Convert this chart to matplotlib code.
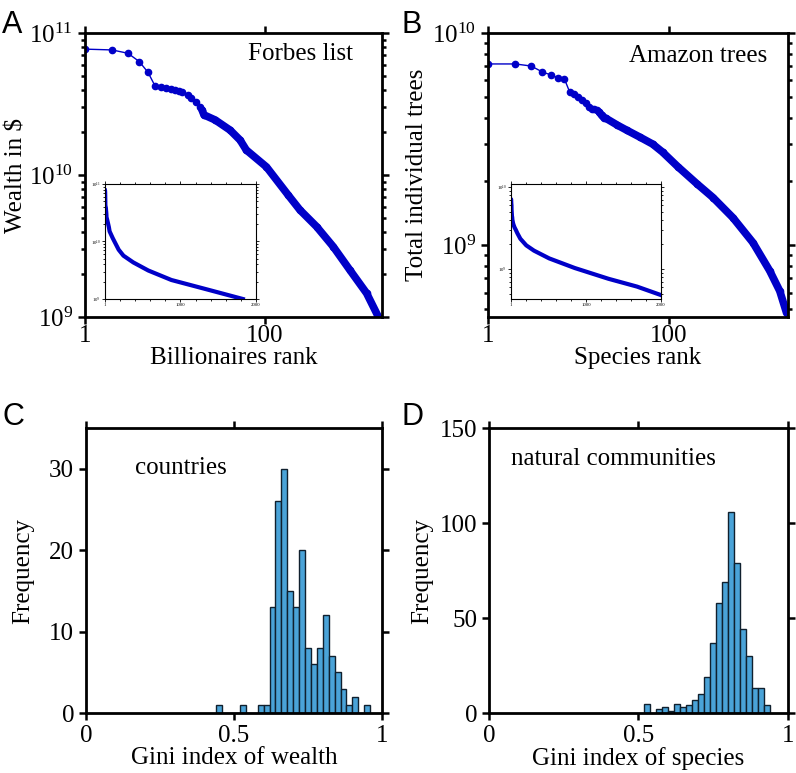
import math
import matplotlib.pyplot as plt
from matplotlib.ticker import LogLocator, NullLocator, NullFormatter, MultipleLocator

plt.rcParams['font.family'] = ['Liberation Serif', 'DejaVu Serif']
plt.rcParams['mathtext.fontset'] = 'custom'
plt.rcParams['mathtext.rm'] = 'Liberation Serif'

# values
forbes_rank = [1, 2, 3, 4, 5, 6, 7, 8, 9, 10, 11, 12, 14, 15, 17, 19, 20, 21,
               28, 41, 53, 62, 104, 182, 245, 375, 574, 880, 1349, 1826]
forbes_wealth = [7.7e10, 7.6e10, 7.2e10, 6.3e10, 5.3e10, 4.24e10, 4.19e10, 4.08e10,
                 4.02e10, 3.97e10, 3.93e10, 3.87e10, 3.66e10, 3.47e10, 3.28e10, 3.03e10,
                 2.87e10, 2.65e10, 2.44e10, 2.07e10, 1.76e10, 1.5e10, 1.14e10, 7.2e9,
                 5.67e9, 4.33e9, 3.13e9, 2.14e9, 1.47e9, 1.0e9]

tree_rank = [1, 2, 3, 4, 5, 6, 7, 8, 9, 10, 11, 12, 13, 14, 15, 16, 17, 18, 19, 20,
             27, 34, 48, 66, 85, 125, 204, 307, 510, 850, 1300, 1680, 2000]
tree_count = [7.15e9, 7.15e9, 6.99e9, 6.55e9, 6.34e9, 6.14e9, 6.07e9, 5.27e9, 5.15e9,
              4.98e9, 4.83e9, 4.66e9, 4.48e9, 4.41e9, 4.37e9, 4.33e9, 4.24e9, 4.1e9,
              4.0e9, 3.97e9, 3.68e9, 3.49e9, 3.23e9, 3.0e9, 2.75e9, 2.35e9, 1.95e9,
              1.68e9, 1.35e9, 1.03e9, 7.6e8, 6.1e8, 4.8e8]

gini_bins_wealth = [0.44, 0.46, 0.48, 0.50, 0.52, 0.54, 0.56, 0.58, 0.60, 0.62, 0.64,
                    0.66, 0.68, 0.70, 0.72, 0.74, 0.76, 0.78, 0.80, 0.82, 0.84, 0.86,
                    0.88, 0.90, 0.92, 0.94]
freq_wealth = [1, 0, 0, 0, 1, 0, 0, 1, 1, 13, 26, 30, 15, 13, 20, 8, 6, 8, 12, 7, 5, 3,
               1, 2, 0, 1]

gini_bins_species = [0.52, 0.54, 0.56, 0.58, 0.60, 0.62, 0.64, 0.66, 0.68, 0.70, 0.72,
                     0.74, 0.76, 0.78, 0.80, 0.82, 0.84, 0.86, 0.88, 0.90, 0.92]
freq_species = [5, 0, 2, 3, 1, 5, 3, 4, 7, 10, 19, 37, 58, 69, 106, 79, 44, 30, 13, 13, 4]

blue = '#0000c8'
barcol = '#4aa3d8'
fs = 18


def style_axes(ax):
    for s in ax.spines.values():
        s.set_linewidth(2.0)
    ax.tick_params(which='both', direction='out', top=True, right=True,
                   width=1.8, labelsize=fs)
    ax.tick_params(which='major', length=5)
    ax.tick_params(which='minor', length=3)


def rank_panel(ax, rank, vals, ylim, yticks, xmax, dense_from):
    ax.plot(rank, vals, color=blue, lw=1, marker='o', ms=4.5)
    big = [i for i, r in enumerate(rank) if r >= dense_from]
    ax.plot([rank[i] for i in big], [vals[i] for i in big], color=blue, lw=5.5,
            solid_capstyle='round', solid_joinstyle='round')
    ax.set_xscale('log')
    ax.set_yscale('log')
    ax.set_xlim(1, xmax)
    ax.set_ylim(*ylim)
    ax.set_xticks([1, 100])
    ax.set_xticklabels(['1', '100'])
    ax.xaxis.set_minor_locator(NullLocator())
    ax.set_yticks(yticks)
    ax.set_yticklabels([r'$\mathregular{10^{%d}}$' % round(math.log10(t)) for t in yticks])
    ax.yaxis.set_minor_locator(LogLocator(subs=range(2, 10)))
    ax.yaxis.set_minor_formatter(NullFormatter())
    style_axes(ax)
    ax.tick_params(axis='x', pad=1)


def inset(ax, rank, vals, ylim):
    ax.plot(rank, vals, color=blue, lw=3)
    ax.set_yscale('log')
    ax.set_xlim(1, 2000)
    ax.set_ylim(*ylim)
    ax.set_xticks([1, 1000, 2000])
    ax.xaxis.set_minor_locator(MultipleLocator(200))
    ax.yaxis.set_minor_formatter(NullFormatter())
    for s in ax.spines.values():
        s.set_linewidth(0.8)
    ax.tick_params(which='both', direction='out', top=True, right=True,
                   width=0.6, labelsize=3.5, pad=1)
    ax.tick_params(which='major', length=2)
    ax.tick_params(which='minor', length=1.2)


def hist_panel(ax, bins, freq, ymax, yticks):
    ax.bar(bins, freq, width=0.02, align='edge', color=barcol,
           edgecolor='#10202e', linewidth=1.0)
    ax.set_xlim(0, 1)
    ax.set_ylim(0, ymax)
    ax.set_xticks([0, 0.5, 1])
    ax.set_xticklabels(['0', '0.5', '1'])
    ax.set_yticks(yticks)
    style_axes(ax)


fig = plt.figure(figsize=(7.96, 7.73), dpi=100)

axA = fig.add_axes([0.1068, 0.5899, 0.3731, 0.3674])
rank_panel(axA, forbes_rank, forbes_wealth, (1e9, 1e11), [1e9, 1e10, 1e11], 2000, 20)
axA.set_xlabel('Billionaires rank', fontsize=fs, labelpad=0)
axA.set_ylabel('Wealth in $', fontsize=fs, labelpad=1)
axA.text(0.725, 0.925, 'Forbes list', transform=axA.transAxes, fontsize=fs,
         ha='center', va='center')

axB = fig.add_axes([0.6131, 0.5899, 0.3768, 0.3674])
rank_panel(axB, tree_rank, tree_count, (4.6e8, 1e10), [1e9, 1e10], 2070, 17)
axB.set_xlabel('Species rank', fontsize=fs, labelpad=0)
axB.set_ylabel('Total individual trees', fontsize=fs, labelpad=3)
axB.text(0.70, 0.92, 'Amazon trees', transform=axB.transAxes, fontsize=fs,
         ha='center', va='center')

insA = fig.add_axes([0.1319, 0.6132, 0.1897, 0.1488])
inset(insA, forbes_rank, forbes_wealth, (1e9, 1e11))
insB = fig.add_axes([0.6420, 0.6132, 0.1884, 0.1488])
inset(insB, tree_rank, tree_count, (4.3e8, 1.1e10))

axC = fig.add_axes([0.1080, 0.0776, 0.3719, 0.3687])
hist_panel(axC, gini_bins_wealth, freq_wealth, 35, [0, 10, 20, 30])
axC.set_xlabel('Gini index of wealth', fontsize=fs, labelpad=0)
axC.set_ylabel('Frequency', fontsize=fs, labelpad=11)
axC.text(0.32, 0.86, 'countries', transform=axC.transAxes, fontsize=fs,
         ha='center', va='center')

axD = fig.add_axes([0.6143, 0.0776, 0.3756, 0.3687])
hist_panel(axD, gini_bins_species, freq_species, 150, [0, 50, 100, 150])
axD.set_xlabel('Gini index of species', fontsize=fs, labelpad=0)
axD.set_ylabel('Frequency', fontsize=fs, labelpad=5)
axD.text(0.415, 0.89, 'natural communities', transform=axD.transAxes, fontsize=fs,
         ha='center', va='center')

for lab, x, y in [('A', 0.003, 0.968), ('B', 0.505, 0.968), ('C', 0.003, 0.46), ('D', 0.505, 0.46)]:
    fig.text(x, y, lab, fontsize=22, family='Liberation Sans', va='center')

fig.savefig('out.png', dpi=100)
